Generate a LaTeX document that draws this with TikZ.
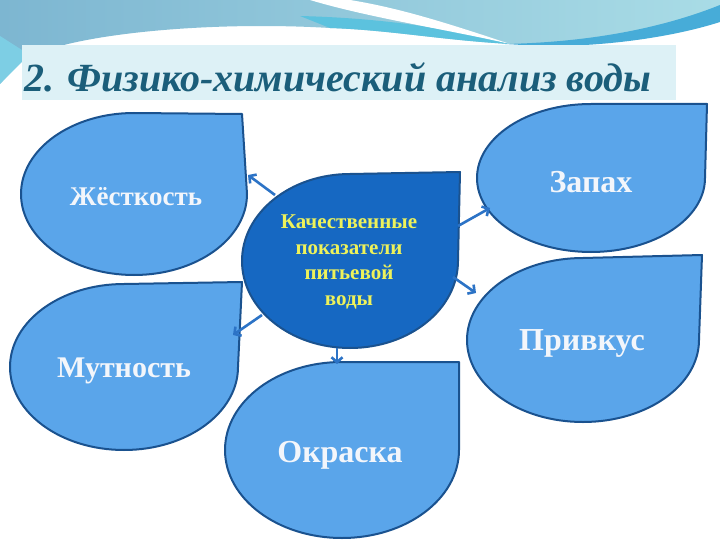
\documentclass[tikz,border=0pt]{standalone}
\usepackage{fontspec}
\setmainfont{Liberation Serif}
\usetikzlibrary{arrows.meta}
\definecolor{dropfill}{HTML}{5AA5EA}
\definecolor{dropline}{HTML}{1A528F}
\definecolor{centerfill}{HTML}{1668C2}
\definecolor{arrowblue}{HTML}{2C73C6}
\definecolor{titlecol}{HTML}{1B5E7A}
\definecolor{txtyellow}{HTML}{EEF25A}
\definecolor{txtwhite}{HTML}{F3F6FB}
\definecolor{topleft}{HTML}{7DB6D1}
\definecolor{topright}{HTML}{A9DCE6}
\definecolor{cyanband}{HTML}{5CC2DE}
\definecolor{blueband}{HTML}{47ACD8}
\definecolor{titlebox}{HTML}{DDF1F6}
\newcommand{\dropshape}[7]{%
  \path[#1] (#2,#3) -- (#4,{#5-#7}) arc[start angle=270,end angle=0,x radius=#6,y radius=#7] -- cycle;}
\begin{document}
\begin{tikzpicture}[x=1pt,y=-1pt,
  drop/.style={fill=dropfill,draw=dropline,line width=2pt,line join=round},
  centerdrop/.style={fill=centerfill,draw=dropline,line width=2pt,line join=round},
  droptext/.style={text=txtwhite,font=\bfseries\fontsize{32}{36}\selectfont,inner sep=0pt},
  conn/.style={draw=arrowblue,line width=2.6pt,-{Straight Barb[length=5pt,width=11pt]}}]
\useasboundingbox (0,0) rectangle (720,540);
\fill[white] (0,0) rectangle (720,540);
% top background
\shade[left color=topleft,right color=topright]
  (0,0) -- (720,0) -- (720,8) .. controls (650,35) and (580,44) .. (510,44)
  .. controls (440,40) and (390,30) .. (330,28)
  .. controls (230,22) and (120,30) .. (60,46) -- (22,60) -- (0,84) -- cycle;
\fill[cyanband!80!white] (0,36) -- (22,50) -- (22,62) -- (0,84) -- cycle;
\fill[cyanband] (300,16) .. controls (380,18) and (450,28) .. (510,44)
  .. controls (440,40) and (390,30) .. (330,28) -- cycle;
\fill[white] (310,0) .. controls (370,18) and (450,30) .. (510,44)
  .. controls (450,24) and (400,8) .. (350,0) -- cycle;
\fill[blueband] (505,44) .. controls (600,42) and (670,25) .. (720,5)
  -- (720,22) .. controls (670,38) and (600,47) .. (540,46) -- cycle;
% title
\fill[titlebox] (22,45) rectangle (676,100);
\node[anchor=base west,inner sep=0pt,text=titlecol,
  font=\bfseries\itshape\fontsize{40}{44}\selectfont] (title) at (24,92)
  {2. Физико-химический анализ воды};
% drops
\dropshape{drop}{242}{114}{134}{194}{113}{81}
\dropshape{drop}{707}{104}{591}{178}{114}{74}
\dropshape{drop}{702}{255}{583}{340}{116}{82}
\dropshape{drop}{242}{282}{124}{367}{114}{83}
\dropshape{drop}{459}{362}{342}{450}{117}{88}
\dropshape{centerdrop}{460}{172}{350}{261}{108}{87}
% texts
\node[droptext,font=\bfseries\fontsize{27}{30}\selectfont] (nhard) at (136,197) {Жёсткость};
\node[droptext] (nsmell) at (591,182) {Запах};
\node[droptext] (ntaste) at (582,343) {Привкус};
\node[droptext,font=\bfseries\fontsize{30}{34}\selectfont] (nturb) at (124,371) {Мутность};
\node[droptext] (ncolor) at (340,455) {Окраска};
\node[text=txtyellow,font=\bfseries\fontsize{21}{25.5}\selectfont,align=center,inner sep=0pt]
  (ncenter) at (349,262) {Качественные\\показатели\\питьевой\\воды};
% connectors
\coordinate (a1s) at (275,195); \coordinate (a1e) at (248,175);
\coordinate (a2s) at (458,226); \coordinate (a2e) at (490,208);
\coordinate (a3s) at (453,277); \coordinate (a3e) at (476,293);
\coordinate (a4s) at (262,315); \coordinate (a4e) at (233,335);
\coordinate (a5s) at (337,348); \coordinate (a5e) at (337,364);
\draw[conn] (a1s) -- (a1e);
\draw[conn] (a2s) -- (a2e);
\draw[conn] (a3s) -- (a3e);
\draw[conn] (a4s) -- (a4e);
\draw[conn] (a5s) -- (a5e);
\end{tikzpicture}
\end{document}
